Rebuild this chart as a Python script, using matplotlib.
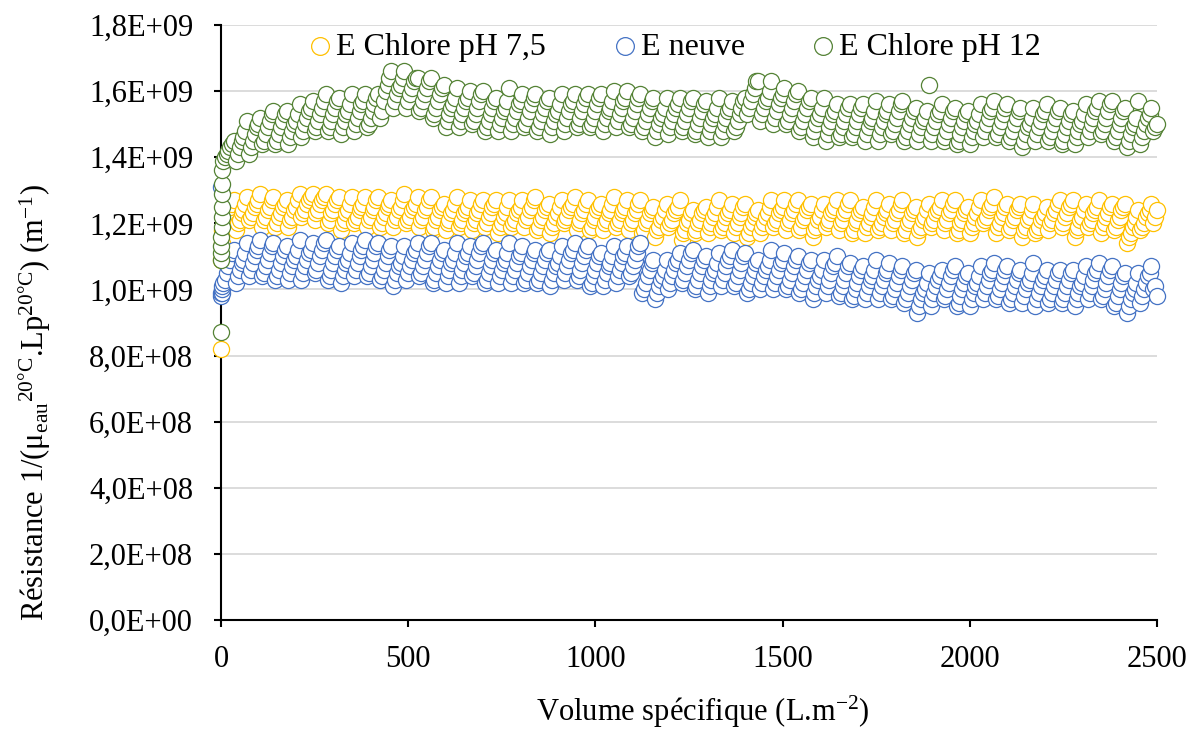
import numpy as np
import matplotlib.pyplot as plt
from matplotlib.ticker import FuncFormatter, MultipleLocator

plt.rcParams['font.family'] = ['Liberation Serif', 'DejaVu Serif']
plt.rcParams['mathtext.fontset'] = 'custom'
plt.rcParams['mathtext.rm'] = 'Liberation Serif'
plt.rcParams['mathtext.it'] = 'Liberation Serif:italic'

# resistance values, in units of 1e7 m-1
# first points near V = 0
x_start_ph75 = [0, 0, 2, 4]
ph75_start = [82, 109, 114, 118]
x_start_neuve = [0, 0, 1, 2, 3, 4]
neuve_start = [131, 98, 99, 99, 100, 101]
x_start_ph12 = [0, 0, 0, 1, 1, 2, 2, 3, 3, 4, 4]
ph12_start = [87, 109, 111, 113, 116, 119, 122, 125, 129, 132, 136]

# then one point every 5 L/m2 from 5 to 2500 (one row = one filtration cycle)
x_main = np.arange(5, 2501, 5)

ph75 = [
    119, 120, 122, 123, 125, 126, 127,
    118, 120, 121, 123, 124, 126, 128,
    121, 122, 123, 125, 126, 127, 129,
    119, 121, 122, 124, 125, 127, 128,
    119, 120, 122, 123, 125, 126, 127,
    119, 121, 122, 124, 125, 127, 129,
    122, 123, 124, 126, 127, 128, 129,
    121, 123, 124, 126, 127, 128, 129,
    120, 121, 123, 124, 126, 127, 128,
    118, 120, 121, 123, 124, 126, 128,
    120, 121, 122, 124, 125, 126, 128,
    119, 121, 122, 124, 125, 127, 128,
    119, 120, 122, 123, 125, 126, 127,
    119, 121, 122, 124, 125, 127, 129,
    120, 121, 122, 124, 125, 126, 128,
    119, 121, 122, 124, 125, 127, 128,
    118, 119, 121, 122, 124, 125, 126,
    118, 120, 121, 123, 124, 126, 128,
    119, 120, 121, 123, 124, 125, 127,
    118, 120, 121, 123, 124, 126, 127,
    119, 120, 122, 123, 125, 126, 127,
    117, 119, 120, 122, 123, 125, 127,
    119, 120, 121, 123, 124, 125, 127,
    119, 121, 122, 124, 125, 127, 128,
    118, 119, 121, 122, 124, 125, 126,
    117, 119, 120, 122, 123, 125, 127,
    120, 121, 122, 124, 125, 126, 128,
    118, 120, 121, 123, 124, 126, 127,
    118, 119, 121, 122, 124, 125, 126,
    118, 120, 121, 123, 124, 126, 128,
    119, 120, 121, 123, 124, 125, 127,
    118, 120, 121, 123, 124, 126, 127,
    117, 118, 120, 121, 123, 124, 125,
    116, 118, 119, 121, 122, 124, 126,
    119, 120, 121, 123, 124, 125, 127,
    115, 117, 118, 120, 121, 123, 124,
    117, 118, 120, 121, 123, 124, 125,
    117, 119, 120, 122, 123, 125, 127,
    118, 119, 120, 122, 123, 124, 126,
    117, 119, 120, 122, 123, 125, 126,
    116, 117, 119, 120, 122, 123, 124,
    117, 119, 120, 122, 123, 125, 127,
    119, 120, 121, 123, 124, 125, 127,
    118, 120, 121, 123, 124, 126, 127,
    118, 119, 121, 122, 124, 125, 126,
    116, 118, 119, 121, 122, 124, 126,
    119, 120, 121, 123, 124, 125, 127,
    118, 120, 121, 123, 124, 126, 127,
    117, 118, 120, 121, 123, 124, 125,
    117, 119, 120, 122, 123, 125, 127,
    118, 119, 120, 122, 123, 124, 126,
    118, 120, 121, 123, 124, 126, 127,
    117, 118, 120, 121, 123, 124, 125,
    116, 118, 119, 121, 122, 124, 126,
    119, 120, 121, 123, 124, 125, 127,
    118, 120, 121, 123, 124, 126, 127,
    117, 118, 120, 121, 123, 124, 125,
    117, 119, 120, 122, 123, 125, 127,
    120, 121, 122, 124, 125, 126, 128,
    117, 119, 120, 122, 123, 125, 126,
    118, 119, 121, 122, 124, 125, 126,
    116, 118, 119, 121, 122, 124, 126,
    117, 118, 119, 121, 122, 123, 125,
    118, 120, 121, 123, 124, 126, 127,
    119, 120, 122, 123, 125, 126, 127,
    116, 118, 119, 121, 122, 124, 126,
    119, 120, 121, 123, 124, 125, 127,
    117, 119, 120, 122, 123, 125, 126,
    118, 119, 121, 122, 124, 125, 126,
    114, 116, 117, 119, 120, 122, 124,
    118, 119, 120, 122, 123, 124, 126,
    120, 122, 124,
]

neuve = [
    102, 103, 105, 107, 109, 111, 112,
    102, 104, 106, 108, 109, 111, 114,
    104, 106, 108, 110, 112, 113, 115,
    104, 105, 107, 109, 111, 113, 114,
    103, 104, 106, 108, 110, 112, 113,
    103, 105, 107, 109, 110, 112, 115,
    103, 105, 107, 109, 111, 112, 114,
    105, 106, 108, 110, 112, 114, 115,
    103, 104, 106, 108, 110, 112, 113,
    102, 104, 106, 108, 109, 111, 114,
    104, 106, 108, 110, 112, 113, 115,
    104, 105, 107, 109, 111, 113, 114,
    103, 104, 106, 108, 110, 112, 113,
    101, 103, 105, 107, 108, 110, 113,
    103, 105, 107, 109, 111, 112, 114,
    104, 105, 107, 109, 111, 113, 114,
    102, 103, 105, 107, 109, 111, 112,
    102, 104, 106, 108, 109, 111, 114,
    102, 104, 106, 108, 110, 111, 113,
    104, 105, 107, 109, 111, 113, 114,
    102, 103, 105, 107, 109, 111, 112,
    102, 104, 106, 108, 109, 111, 114,
    102, 104, 106, 108, 110, 111, 113,
    102, 103, 105, 107, 109, 111, 112,
    102, 103, 105, 107, 109, 111, 112,
    101, 103, 105, 107, 108, 110, 113,
    103, 105, 107, 109, 111, 112, 114,
    103, 104, 106, 108, 110, 112, 113,
    101, 102, 104, 106, 108, 110, 111,
    101, 103, 105, 107, 108, 110, 113,
    102, 104, 106, 108, 110, 111, 113,
    104, 105, 107, 109, 111, 113, 114,
    99, 100, 102, 104, 106, 108, 109,
    97, 99, 101, 103, 104, 106, 109,
    100, 102, 104, 106, 108, 109, 111,
    102, 103, 105, 107, 109, 111, 112,
    100, 101, 103, 105, 107, 109, 110,
    99, 101, 103, 105, 106, 108, 111,
    101, 103, 105, 107, 109, 110, 112,
    101, 102, 104, 106, 108, 110, 111,
    99, 100, 102, 104, 106, 108, 109,
    100, 102, 104, 106, 107, 109, 112,
    100, 102, 104, 106, 108, 109, 111,
    100, 101, 103, 105, 107, 109, 110,
    99, 100, 102, 104, 106, 108, 109,
    97, 99, 101, 103, 104, 106, 109,
    99, 101, 103, 105, 107, 108, 110,
    98, 99, 101, 103, 105, 107, 108,
    97, 98, 100, 102, 104, 106, 107,
    97, 99, 101, 103, 104, 106, 109,
    97, 99, 101, 103, 105, 106, 108,
    97, 98, 100, 102, 104, 106, 107,
    96, 97, 99, 101, 103, 105, 106,
    93, 95, 97, 99, 100, 102, 105,
    95, 97, 99, 101, 103, 104, 106,
    97, 98, 100, 102, 104, 106, 107,
    95, 96, 98, 100, 102, 104, 105,
    95, 97, 99, 101, 102, 104, 107,
    97, 99, 101, 103, 105, 106, 108,
    97, 98, 100, 102, 104, 106, 107,
    96, 97, 99, 101, 103, 105, 106,
    96, 98, 100, 102, 103, 105, 108,
    95, 97, 99, 101, 103, 104, 106,
    96, 97, 99, 101, 103, 105, 106,
    96, 97, 99, 101, 103, 105, 106,
    95, 97, 99, 101, 102, 104, 107,
    97, 99, 101, 103, 105, 106, 108,
    97, 98, 100, 102, 104, 106, 107,
    95, 96, 98, 100, 102, 104, 105,
    93, 95, 97, 99, 100, 102, 105,
    96, 98, 100, 102, 104, 105, 107,
    100, 101, 98,
]

ph12 = [
    139, 140, 141, 142, 143, 144, 145,
    139, 141, 143, 145, 146, 148, 151,
    141, 143, 145, 147, 149, 150, 152,
    144, 145, 147, 149, 151, 153, 154,
    144, 145, 147, 149, 151, 153, 154,
    144, 146, 148, 150, 151, 153, 156,
    146, 148, 150, 152, 154, 155, 157,
    148, 149, 151, 153, 155, 157, 159,
    148, 149, 151, 153, 155, 157, 158,
    147, 149, 151, 153, 154, 156, 159,
    148, 150, 152, 154, 156, 157, 159,
    149, 150, 152, 154, 156, 158, 159,
    152, 154, 157, 160, 162, 164, 166,
    155, 157, 159, 161, 162, 164, 166,
    155, 157, 159, 161, 163, 164, 164,
    154, 155, 157, 159, 161, 163, 164,
    152, 153, 155, 157, 159, 161, 162,
    149, 151, 153, 155, 156, 158, 161,
    149, 151, 153, 155, 157, 158, 160,
    150, 151, 153, 155, 157, 159, 160,
    148, 149, 151, 153, 155, 157, 158,
    148, 150, 152, 154, 155, 157, 161,
    148, 150, 152, 154, 156, 157, 159,
    149, 150, 152, 154, 156, 158, 159,
    148, 149, 151, 153, 155, 157, 158,
    147, 149, 151, 153, 154, 156, 159,
    148, 150, 152, 154, 156, 157, 159,
    149, 150, 152, 154, 156, 158, 159,
    149, 150, 152, 154, 156, 158, 159,
    148, 150, 152, 154, 155, 157, 160,
    149, 151, 153, 155, 157, 158, 160,
    149, 150, 152, 154, 156, 158, 159,
    148, 149, 151, 153, 155, 157, 158,
    146, 148, 150, 152, 153, 155, 158,
    147, 149, 151, 153, 155, 156, 158,
    148, 149, 151, 153, 155, 157, 158,
    147, 148, 150, 152, 154, 156, 157,
    146, 148, 150, 152, 153, 155, 158,
    146, 148, 150, 152, 154, 155, 157,
    148, 149, 151, 153, 155, 157, 158,
    153, 155, 157, 159, 161, 163, 163,
    151, 153, 155, 157, 158, 160, 163,
    150, 152, 154, 156, 158, 159, 161,
    150, 151, 153, 155, 157, 159, 160,
    148, 149, 151, 153, 155, 157, 158,
    146, 148, 150, 152, 153, 155, 158,
    145, 147, 149, 151, 153, 154, 156,
    146, 147, 149, 151, 153, 155, 156,
    146, 147, 149, 151, 153, 155, 156,
    145, 147, 149, 151, 152, 154, 157,
    145, 147, 149, 151, 153, 154, 156,
    147, 148, 150, 152, 154, 156, 157,
    145, 146, 148, 150, 152, 154, 155,
    145, 147, 149, 151, 152, 154, 162,
    145, 147, 149, 151, 153, 154, 156,
    145, 146, 148, 150, 152, 154, 155,
    144, 145, 147, 149, 151, 153, 154,
    144, 146, 148, 150, 151, 153, 156,
    146, 148, 150, 152, 154, 155, 157,
    146, 147, 149, 151, 153, 155, 156,
    145, 146, 148, 150, 152, 154, 155,
    143, 145, 147, 149, 150, 152, 155,
    145, 147, 149, 151, 153, 154, 156,
    145, 146, 148, 150, 152, 154, 155,
    144, 145, 147, 149, 151, 153, 154,
    144, 146, 148, 150, 151, 153, 156,
    146, 148, 150, 152, 154, 155, 157,
    147, 148, 150, 152, 154, 156, 157,
    145, 146, 148, 150, 152, 154, 155,
    143, 145, 147, 149, 150, 152, 157,
    144, 146, 148, 150, 152, 153, 155,
    148, 149, 150,
]

labels = ['E Chlore pH 7,5', 'E neuve', 'E Chlore pH 12']
colors = ['#FFC000', '#4472C4', '#548235']

series = [
    (x_start_ph75, ph75_start, ph75),
    (x_start_neuve, neuve_start, neuve),
    (x_start_ph12, ph12_start, ph12),
]

fig = plt.figure(figsize=(11.9, 7.47), dpi=100)
ax = fig.add_axes([0.1857, 0.170, 0.7866, 0.7965])

for (xs, ys, ym), lab, col in zip(series, labels, colors):
    x = np.concatenate([xs, x_main])
    y = np.concatenate([ys, ym]) * 1e7
    ax.scatter(x, y, s=135, facecolors='white', edgecolors=col,
               linewidths=0.9, label=lab, zorder=3, clip_on=False)

ax.set_xlim(0, 2500)
ax.set_ylim(0, 1.8e9)
ax.xaxis.set_major_locator(MultipleLocator(500))
ax.yaxis.set_major_locator(MultipleLocator(2e8))
ax.yaxis.set_major_formatter(FuncFormatter(lambda v, p: f"{v:.1E}".replace('.', ',')))

ax.grid(axis='y', color='#D9D9D9', linewidth=1.3, zorder=0)
ax.set_axisbelow(True)
for s in ['top', 'right']:
    ax.spines[s].set_visible(False)
for s in ['left', 'bottom']:
    ax.spines[s].set_linewidth(1.5)
ax.tick_params(axis='both', direction='out', length=5, width=1.5,
               labelsize=22, colors='black')
ax.tick_params(axis='y', pad=15)
ax.tick_params(axis='x', pad=13)

fig.text(703 / 1190, 1 - 712 / 747, 'Volume spécifique (L.m$^{\\mathrm{-2}}$)',
         fontsize=22, ha='center', va='center')
fig.text(35 / 1190, 1 - 403 / 747,
         'Résistance 1/(μ$_{\\mathrm{eau}}$$^{\\mathrm{20°C}}$.Lp$^{\\mathrm{20°C}}$) (m$^{\\mathrm{-1}}$)',
         fontsize=22, rotation=90, ha='center', va='center')

ax.legend(loc='center', bbox_to_anchor=(0.485, 0.963), ncol=3, frameon=False,
          fontsize=23, handlelength=0.7, handletextpad=0.15, columnspacing=2.1,
          markerscale=1.1, borderaxespad=0)

fig.savefig('out.png', dpi=100)
